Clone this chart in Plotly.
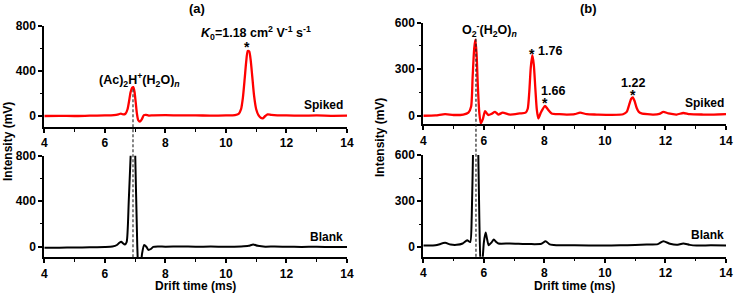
import plotly.graph_objects as go

# ---------------- data ----------------
# Panel (a) spiked (red)
a_spiked_t = [4.0, 4.5, 5.0, 5.5, 6.0, 6.3, 6.45, 6.53, 6.6, 6.68, 6.75, 6.8, 6.85, 6.9, 6.94,
              6.98, 7.02, 7.06, 7.1, 7.16, 7.22, 7.29, 7.36, 7.45, 7.6, 8.0, 8.5, 9.0, 9.5,
              10.0, 10.3, 10.42, 10.5, 10.56, 10.62, 10.67, 10.72, 10.77, 10.82, 10.87,
              10.93, 11.0, 11.08, 11.15, 11.22, 11.3, 11.38, 11.5, 11.7, 12.0, 12.5, 13.0,
              13.5, 14.0]
a_spiked_v = [0, 2, 0, 3, 5, 8, 15, 22, 15, 20, 60, 130, 210, 250, 255,
              215, 120, 20, -35, -50, -30, 8, 10, 4, 6, 8, 5, 6, 3,
              5, 8, 18, 60, 160, 330, 480, 575, 570, 490, 350,
              180, 60, 5, -15, -20, 0, 15, 10, 6, 5, 3, 5,
              2, 3]

# Panel (a) blank (black)
a_blank_t = [4.0, 4.5, 5.0, 5.5, 6.0, 6.25, 6.4, 6.48, 6.54, 6.6, 6.66, 6.72, 6.79, 6.86,
             6.93, 7.0, 7.07, 7.12, 7.18, 7.23, 7.3, 7.37, 7.44, 7.52, 7.6, 7.75, 8.0,
             8.5, 9.0, 9.5, 10.0, 10.5, 10.75, 10.9, 11.05, 11.3, 11.6, 12.0, 12.5,
             13.0, 13.5, 14.0]
a_blank_v = [-8, -8, -7, -5, -2, 2, 15, 35, 44, 30, 20, 40, 400, 850,
             1300, 850, 20, -250, -200, -60, 15, 0, -28, -20, -2, 2, 0,
             2, 0, 1, 0, 3, 8, 20, 8, 0, 2, 0, -2,
             0, -3, -3]

# Panel (b) spiked (red)
b_spiked_t = [4.0, 4.4, 4.72, 5.0, 5.32, 5.49, 5.58, 5.63, 5.68, 5.72, 5.76, 5.8, 5.85, 5.9,
              5.97, 6.04, 6.1, 6.15, 6.25, 6.37, 6.48, 6.62, 6.86, 7.19, 7.38, 7.45, 7.5,
              7.55, 7.6, 7.65, 7.7, 7.75, 7.8, 7.88, 7.95, 8.02, 8.1, 8.24, 8.5, 8.74,
              9.0, 9.18, 9.4, 9.73, 10.2, 10.6, 10.72, 10.8, 10.87, 10.92, 10.98, 11.05,
              11.12, 11.21, 11.4, 11.6, 11.8, 11.93, 12.1, 12.37, 12.59, 12.8, 13.25,
              13.6, 14.0]
b_spiked_v = [0, 2, 10, 5, 8, 20, 60, 250, 430, 490, 400, 200, 20, -50,
              -20, 30, 15, 5, 12, 25, 8, 20, 8, 15, 20, 45, 150,
              310, 390, 330, 180, 40, -17, 20, 45, 64, 45, 15, 10, 8,
              10, 20, 10, 8, 6, 10, 25, 70, 110, 118, 95, 50,
              25, 15, 10, 8, 12, 25, 15, 8, 18, 10, 8,
              8, 10]

# Panel (b) blank (black)
b_blank_t = [4.0, 4.4, 4.72, 4.9, 5.1, 5.3, 5.45, 5.55, 5.6, 5.65, 5.7, 5.75, 5.8, 5.85,
             5.9, 5.95, 6.0, 6.06, 6.11, 6.16, 6.25, 6.33, 6.4, 6.48, 6.86, 7.52, 7.9,
             8.04, 8.18, 8.4, 9.0, 9.95, 10.5, 11.0, 11.38, 11.75, 11.93, 12.15, 12.37,
             12.59, 12.8, 13.03, 13.5, 14.0]
b_blank_v = [11, 12, 28, 17, 15, 24, 45, 33, 200, 700, 1100, 1100, 800, 200,
             -150, -100, 30, 95, 50, 13, 30, 50, 35, 24, 24, 20, 22,
             39, 18, 13, 12, 11, 12, 14, 17, 20, 39, 22, 15,
             24, 15, 11, 12, 11]

# axis tick values / labels
x_ticks = [4, 6, 8, 10, 12, 14]
a_yticks = [0, 400, 800]
b_yticks = [0, 300, 600]
a_peak_marker_t = 6.93   # reference drift time of reactant ion peak (a)
b_peak_marker_t = 5.74   # reference drift time of reactant ion peak (b)

# ---------------- figure ----------------
FONT = "Liberation Sans"
RED = "#ff0000"

fig = go.Figure()

def add(t, v, color, xa, ya, w):
    fig.add_trace(go.Scatter(x=t, y=v, mode="lines", xaxis=xa, yaxis=ya,
                             line=dict(color=color, width=w, shape="spline", smoothing=0.6),
                             showlegend=False, hoverinfo="skip"))

add(a_spiked_t, a_spiked_v, RED, "x", "y", 2.3)
add(a_blank_t, a_blank_v, "black", "x2", "y2", 2)
add(b_spiked_t, b_spiked_v, RED, "x3", "y3", 2.3)
add(b_blank_t, b_blank_v, "black", "x4", "y4", 2)

W, H = 734, 299
def px(x):
    return x / W
def py(y):
    return 1 - y / H

xa_dom = [px(44.3), px(347)]
xb_dom = [px(423.3), px(726)]

TICKFONT = dict(family=FONT, size=12, color="black", weight="bold")
common_x = dict(range=[4, 14], tickvals=x_ticks, ticktext=[f"<b>{v}</b>" for v in x_ticks],
                ticks="outside", ticklen=4, tickwidth=1.5,
                tickcolor="black", showline=True, linewidth=2, linecolor="black",
                showgrid=False, zeroline=False, automargin=False,
                minor=dict(dtick=1, tick0=4, ticks="outside", ticklen=2.5, tickwidth=1.2,
                           tickcolor="black", showgrid=False),
                tickfont=TICKFONT)
common_y = dict(ticks="outside", ticklen=4, tickwidth=1.5, tickcolor="black", showline=True,
                linewidth=2, linecolor="black", showgrid=False, zeroline=False, automargin=False,
                tickfont=TICKFONT)

def ymin(d):
    return dict(dtick=d, tick0=0, ticks="outside", ticklen=2.5, tickwidth=1.2, tickcolor="black")

fig.update_layout(
    width=W, height=H, margin=dict(l=0, r=0, t=0, b=0, autoexpand=False),
    paper_bgcolor="white", plot_bgcolor="white",
    font=dict(family=FONT, size=12, color="black", weight="bold"),
    xaxis=dict(domain=xa_dom, anchor="y", **common_x),
    yaxis=dict(domain=[py(127), py(25.5)], anchor="x", range=[-97, 800], tickvals=a_yticks,
               ticktext=[f"<b>{v}</b>" for v in a_yticks], minor=ymin(200), **common_y),
    xaxis2=dict(domain=xa_dom, anchor="y2", **common_x),
    yaxis2=dict(domain=[py(257.3), py(155.7)], anchor="x2", range=[-93, 800], tickvals=a_yticks,
                ticktext=[f"<b>{v}</b>" for v in a_yticks], minor=ymin(200), **common_y),
    xaxis3=dict(domain=xb_dom, anchor="y3", **common_x),
    yaxis3=dict(domain=[py(124.3), py(22.7)], anchor="x3", range=[-55, 600], tickvals=b_yticks,
                ticktext=[f"<b>{v}</b>" for v in b_yticks], minor=ymin(150), **common_y),
    xaxis4=dict(domain=xb_dom, anchor="y4", **common_x),
    yaxis4=dict(domain=[py(256.7), py(155)], anchor="x4", range=[-62, 600], tickvals=b_yticks,
                ticktext=[f"<b>{v}</b>" for v in b_yticks], minor=ymin(150), **common_y),
)

# dashed reference lines spanning both panels
fig.add_shape(type="line", xref="x", yref="paper", x0=a_peak_marker_t, x1=a_peak_marker_t,
              y0=py(257.3), y1=py(88), line=dict(color="#333333", width=1.2, dash="3px,2px"))
fig.add_shape(type="line", xref="x3", yref="paper", x0=b_peak_marker_t, x1=b_peak_marker_t,
              y0=py(256.7), y1=py(38), line=dict(color="#222222", width=1.2, dash="3px,2px"))

def ann(text, x, y, xref, yref, size=12, xanchor="center", yanchor="middle", angle=0):
    fig.add_annotation(text=f"<b>{text}</b>", x=x, y=y, xref=xref, yref=yref, showarrow=False,
                       xanchor=xanchor, yanchor=yanchor, textangle=angle,
                       font=dict(family=FONT, size=size, color="black", weight="bold"))

# panel titles
ann("(a)", px(197), py(9), "paper", "paper", size=13)
ann("(b)", px(588), py(9), "paper", "paper", size=13)

# panel (a) labels
ann("<i>K</i><sub>0</sub>=1.18 cm<sup>2</sup> V<sup>-1</sup> s<sup>-1</sup>", 10.99, 730, "x", "y", size=12.5)
ann("*", 10.7, 610, "x", "y", size=14)
ann("(Ac)<sub>2</sub>H<sup>+</sup>(H<sub>2</sub>O)<sub><i>n</i></sub>", 7.16, 316, "x", "y", size=12.5)
ann("Spiked", 13.93, 97, "x", "y", xanchor="right")
ann("Blank", 13.93, 88, "x2", "y2", xanchor="right")

# panel (b) labels
ann("O<sub>2</sub><sup>-</sup>(H<sub>2</sub>O)<sub><i>n</i></sub>", 6.2, 553, "x3", "y3", size=12.5)
ann("*", 7.6, 395, "x3", "y3", size=14)
ann("1.76", 8.19, 417, "x3", "y3", size=12.5)
ann("1.66", 8.27, 159, "x3", "y3", size=12.5)
ann("*", 8.02, 80, "x3", "y3", size=14)
ann("1.22", 10.93, 210, "x3", "y3", size=12.5)
ann("*", 10.92, 132, "x3", "y3", size=14)
ann("Spiked", 14.0, 82, "x3", "y3", xanchor="right")
ann("Blank", 14.0, 78, "x4", "y4", xanchor="right")

# axis titles
ann("Drift time (ms)", px(195.7), py(285.5), "paper", "paper")
ann("Drift time (ms)", px(574.7), py(285.5), "paper", "paper")
ann("Intensity (mV)", px(8), py(142), "paper", "paper", angle=-90)
ann("Intensity (mV)", px(380), py(138), "paper", "paper", angle=-90)

fig.write_html("out.html", config={"displayModeBar": False},
               post_script="document.body.style.margin='0';document.body.style.overflow='hidden';")
